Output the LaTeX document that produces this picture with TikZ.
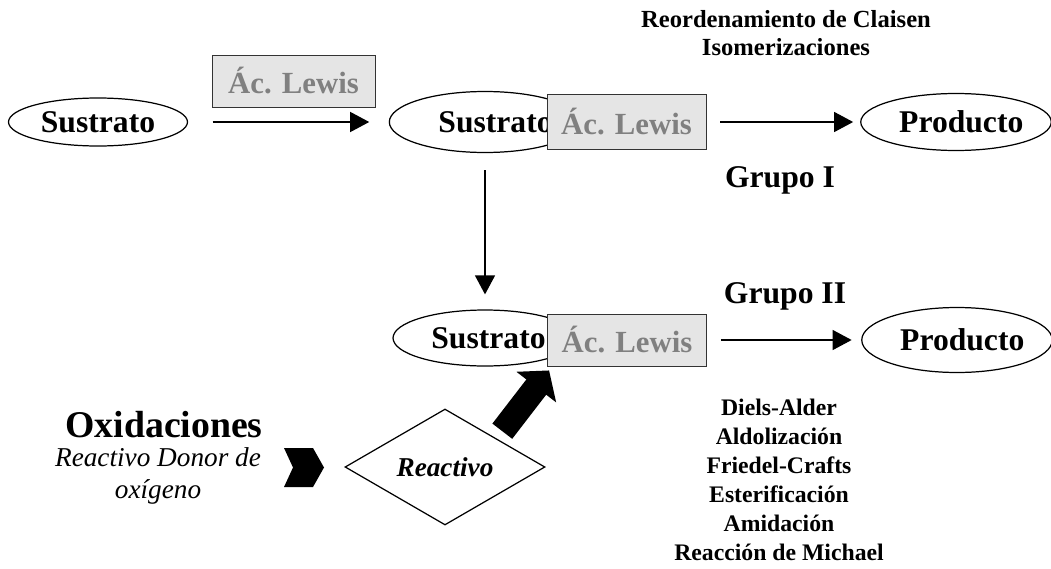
\documentclass[tikz,border=0pt]{standalone}
\usepackage{fontspec}
\setmainfont{Liberation Serif}
\usetikzlibrary{calc,positioning,shapes.geometric,arrows.meta}

\begin{document}
\begin{tikzpicture}[
                x=0.02cm, y=-0.02cm,
                every node/.append style={inner sep=0pt,font=\bfseries\fontsize{18}{20}\selectfont},
                ell/.style={ellipse,draw,line width=0.7pt,fill=white,minimum width=3.6cm,minimum height=1.1cm},
                lewis/.style={draw=black!80,line width=0.5pt,fill=gray!20,text=gray,font=\bfseries\fontsize{17.5}{20}\selectfont,minimum width=3.18cm,minimum height=1.04cm},
                arr/.style={line width=0.7pt,-{Triangle[length=0.38cm,width=0.4cm]}},
                lista/.style={align=center,font=\bfseries\fontsize{13.5}{16.5}\selectfont}
            ]
                \useasboundingbox (0,0) rectangle (1051,568);
                % fila de arriba
                \node[ell,minimum width=3.58cm,minimum height=0.96cm] (sus1) at (98,122) {Sustrato};
                \node[lewis,minimum width=3.26cm] (lw1) at (293.5,81) {Ác. Lewis};
                \node[ell,minimum width=3.7cm,minimum height=1.22cm] (sus2) at (485,122) {\hspace{12pt}Sustrato};
                \node[lewis,minimum height=1.1cm] (lw2) at (626.5,122) {Ác. Lewis};
                \node[ell,minimum width=3.72cm,minimum height=1.14cm] (pro1) at (956,122) {\hspace{6pt}Producto};
                \node[font=\bfseries\fontsize{14}{15.5}\selectfont,align=center] (claisen) at (786,33) {Reordenamiento de Claisen\\Isomerizaciones};
                \node (g1) at (780,180) {Grupo I};
                \draw[arr,shorten <=0.49cm,shorten >=0.39cm] (sus1.east) -- (sus2.west);
                \draw[arr,shorten <=0.28cm,shorten >=0.14cm] (lw2.east) -- (pro1.west);
                % fila de abajo
                \node[ell,minimum width=3.68cm,minimum height=1.12cm] (sus3) at (485,338) {\hspace{4pt}Sustrato};
                \node[lewis] (lw3) at (627,340) {Ác. Lewis};
                \node[ell,minimum width=3.7cm,minimum height=1.3cm] (pro2) at (957,340) {\hspace{6pt}Producto};
                \node (g2) at (785,296) {Grupo II};
                \draw[arr,shorten <=0.34cm,shorten >=0.3cm] (sus2.south) -- (sus3.north);
                \draw[arr,shorten <=0.28cm,shorten >=0.19cm] (lw3.east) -- (pro2.west);
                \node[lista] (reac) at (779,480) {Diels-Alder\\Aldolización\\Friedel-Crafts\\Esterificación\\Amidación\\Reacción de Michael};
                % oxidaciones
                \node[font=\bfseries\fontsize{21.5}{24}\selectfont] (oxi) at (164,425) {Oxidaciones};
                \node[font=\itshape\fontsize{15.5}{18.5}\selectfont,align=center] (donor) at (158,476) {Reactivo Donor de\\oxígeno};
                \fill (284,448) -- (313,448) -- (324,467.5) -- (313,487) -- (284,487) -- (293,467.5) -- cycle;
                \node[diamond,draw,line width=0.7pt,minimum width=4cm,minimum height=2.32cm,font=\bfseries\itshape\fontsize{15.5}{18}\selectfont] (react) at (445,467) {Reactivo};
                \draw[line width=0.5cm,-{Triangle[length=0.42cm,width=0.98cm]}] ([shift={(7,-6.5)}]react.north east) -- ([shift={(2,4)}]lw3.south west);
            \end{tikzpicture}
\end{document}
